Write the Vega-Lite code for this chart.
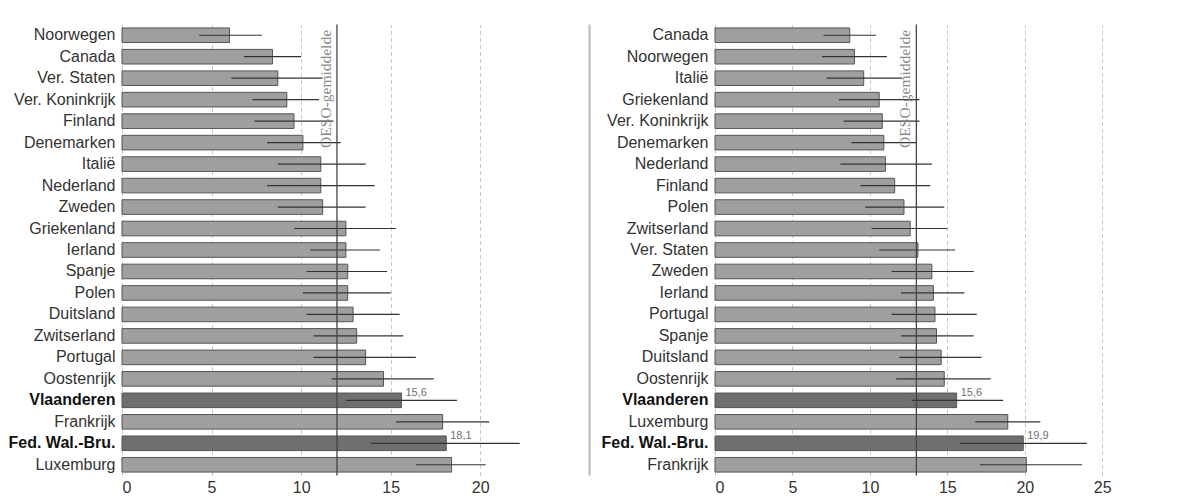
{
  "$schema": "https://vega.github.io/schema/vega-lite/v6.json",
  "background": "#ffffff",
  "padding": {"left": 8, "top": 21.5, "right": 5, "bottom": 3},
  "spacing": 10,
  "datasets": {
    "links": [
      {"land": "Noorwegen", "waarde": 6.0, "laag": 4.3, "hoog": 7.8, "groep": "land", "label": ""},
      {"land": "Canada", "waarde": 8.4, "laag": 6.8, "hoog": 10.0, "groep": "land", "label": ""},
      {"land": "Ver. Staten", "waarde": 8.7, "laag": 6.1, "hoog": 11.2, "groep": "land", "label": ""},
      {"land": "Ver. Koninkrijk", "waarde": 9.2, "laag": 7.3, "hoog": 11.0, "groep": "land", "label": ""},
      {"land": "Finland", "waarde": 9.6, "laag": 7.4, "hoog": 11.8, "groep": "land", "label": ""},
      {"land": "Denemarken", "waarde": 10.1, "laag": 8.1, "hoog": 12.2, "groep": "land", "label": ""},
      {"land": "Italië", "waarde": 11.1, "laag": 8.7, "hoog": 13.6, "groep": "land", "label": ""},
      {"land": "Nederland", "waarde": 11.1, "laag": 8.1, "hoog": 14.1, "groep": "land", "label": ""},
      {"land": "Zweden", "waarde": 11.2, "laag": 8.7, "hoog": 13.6, "groep": "land", "label": ""},
      {"land": "Griekenland", "waarde": 12.5, "laag": 9.6, "hoog": 15.3, "groep": "land", "label": ""},
      {"land": "Ierland", "waarde": 12.5, "laag": 10.5, "hoog": 14.4, "groep": "land", "label": ""},
      {"land": "Spanje", "waarde": 12.6, "laag": 10.3, "hoog": 14.8, "groep": "land", "label": ""},
      {"land": "Polen", "waarde": 12.6, "laag": 10.1, "hoog": 15.0, "groep": "land", "label": ""},
      {"land": "Duitsland", "waarde": 12.9, "laag": 10.3, "hoog": 15.5, "groep": "land", "label": ""},
      {"land": "Zwitserland", "waarde": 13.1, "laag": 10.7, "hoog": 15.7, "groep": "land", "label": ""},
      {"land": "Portugal", "waarde": 13.6, "laag": 10.7, "hoog": 16.4, "groep": "land", "label": ""},
      {"land": "Oostenrijk", "waarde": 14.6, "laag": 11.7, "hoog": 17.4, "groep": "land", "label": ""},
      {"land": "Vlaanderen", "waarde": 15.6, "laag": 12.5, "hoog": 18.7, "groep": "regio", "label": "15,6"},
      {"land": "Frankrijk", "waarde": 17.9, "laag": 15.3, "hoog": 20.5, "groep": "land", "label": ""},
      {"land": "Fed. Wal.-Bru.", "waarde": 18.1, "laag": 13.9, "hoog": 22.2, "groep": "regio", "label": "18,1"},
      {"land": "Luxemburg", "waarde": 18.4, "laag": 16.4, "hoog": 20.3, "groep": "land", "label": ""}
    ],
    "rechts": [
      {"land": "Canada", "waarde": 8.7, "laag": 7.0, "hoog": 10.4, "groep": "land", "label": ""},
      {"land": "Noorwegen", "waarde": 9.0, "laag": 6.9, "hoog": 11.1, "groep": "land", "label": ""},
      {"land": "Italië", "waarde": 9.6, "laag": 7.2, "hoog": 12.1, "groep": "land", "label": ""},
      {"land": "Griekenland", "waarde": 10.6, "laag": 8.0, "hoog": 13.2, "groep": "land", "label": ""},
      {"land": "Ver. Koninkrijk", "waarde": 10.8, "laag": 8.3, "hoog": 13.2, "groep": "land", "label": ""},
      {"land": "Denemarken", "waarde": 10.9, "laag": 8.8, "hoog": 13.0, "groep": "land", "label": ""},
      {"land": "Nederland", "waarde": 11.0, "laag": 8.1, "hoog": 14.0, "groep": "land", "label": ""},
      {"land": "Finland", "waarde": 11.6, "laag": 9.4, "hoog": 13.9, "groep": "land", "label": ""},
      {"land": "Polen", "waarde": 12.2, "laag": 9.7, "hoog": 14.8, "groep": "land", "label": ""},
      {"land": "Zwitserland", "waarde": 12.6, "laag": 10.1, "hoog": 15.0, "groep": "land", "label": ""},
      {"land": "Ver. Staten", "waarde": 13.1, "laag": 10.6, "hoog": 15.5, "groep": "land", "label": ""},
      {"land": "Zweden", "waarde": 14.0, "laag": 11.4, "hoog": 16.7, "groep": "land", "label": ""},
      {"land": "Ierland", "waarde": 14.1, "laag": 12.0, "hoog": 16.1, "groep": "land", "label": ""},
      {"land": "Portugal", "waarde": 14.2, "laag": 11.4, "hoog": 16.9, "groep": "land", "label": ""},
      {"land": "Spanje", "waarde": 14.3, "laag": 12.0, "hoog": 16.7, "groep": "land", "label": ""},
      {"land": "Duitsland", "waarde": 14.6, "laag": 11.9, "hoog": 17.2, "groep": "land", "label": ""},
      {"land": "Oostenrijk", "waarde": 14.8, "laag": 11.7, "hoog": 17.8, "groep": "land", "label": ""},
      {"land": "Vlaanderen", "waarde": 15.6, "laag": 12.7, "hoog": 18.6, "groep": "regio", "label": "15,6"},
      {"land": "Luxemburg", "waarde": 18.9, "laag": 16.8, "hoog": 21.0, "groep": "land", "label": ""},
      {"land": "Fed. Wal.-Bru.", "waarde": 19.9, "laag": 15.8, "hoog": 24.0, "groep": "regio", "label": "19,9"},
      {"land": "Frankrijk", "waarde": 20.1, "laag": 17.1, "hoog": 23.7, "groep": "land", "label": ""}
    ],
    "gem_links": [{"gem": 12.0, "tekst": "OESO-gemiddelde"}],
    "gem_rechts": [{"gem": 13.0, "tekst": "OESO-gemiddelde"}],
    "scheiding": [{"pos": 26.1}]
  },
  "hconcat": [
    {
      "width": 412,
      "height": 451,
      "layer": [
        {
          "data": {"name": "links"},
          "mark": {"type": "bar", "stroke": "#555555", "strokeWidth": 1},
          "encoding": {
            "y": {"field": "land", "type": "nominal", "sort": null,
                  "scale": {"paddingInner": 0.32, "paddingOuter": 0.16},
                  "axis": {"labelFontWeight": {"condition": {"test": "datum.value === 'Vlaanderen' || datum.value === 'Fed. Wal.-Bru.'", "value": "bold"}, "value": "normal"},
                           "labelColor": {"condition": {"test": "datum.value === 'Vlaanderen' || datum.value === 'Fed. Wal.-Bru.'", "value": "#111111"}, "value": "#333333"}}},
            "x": {"field": "waarde", "type": "quantitative", "scale": {"domain": [0, 23], "nice": false},
                  "axis": {"values": [0, 5, 10, 15, 20]}},
            "color": {"field": "groep", "type": "nominal", "scale": {"domain": ["land", "regio"], "range": ["#9f9f9f", "#6f6f6f"]}, "legend": null}
          }
        },
        {
          "data": {"name": "links"},
          "mark": {"type": "rule", "color": "#333333", "strokeWidth": 1.2},
          "encoding": {
            "y": {"field": "land", "type": "nominal", "sort": null},
            "x": {"field": "laag", "type": "quantitative"},
            "x2": {"field": "hoog"}
          }
        },
        {
          "data": {"name": "links"},
          "mark": {"type": "text", "align": "left", "baseline": "middle", "dx": 4, "dy": -7, "fontSize": 11, "font": "Liberation Sans", "color": "#707070"},
          "encoding": {
            "y": {"field": "land", "type": "nominal", "sort": null},
            "x": {"field": "waarde", "type": "quantitative"},
            "text": {"field": "label"}
          }
        },
        {
          "data": {"name": "gem_links"},
          "mark": {"type": "rule", "color": "#444444", "strokeWidth": 1.3},
          "encoding": {"x": {"field": "gem", "type": "quantitative"}}
        },
        {
          "data": {"name": "gem_links"},
          "mark": {"type": "text", "angle": 270, "align": "right", "baseline": "bottom", "dx": -2, "dy": -3, "font": "Liberation Serif", "fontSize": 15.5, "color": "#8a8a8a"},
          "encoding": {
            "x": {"field": "gem", "type": "quantitative"},
            "y": {"datum": "Noorwegen", "type": "nominal", "bandPosition": 0},
            "text": {"field": "tekst"}
          }
        },
        {
          "data": {"name": "scheiding"},
          "mark": {"type": "rule", "color": "#bbbbbb", "strokeWidth": 2},
          "encoding": {"x": {"field": "pos", "type": "quantitative"}}
        }
      ]
    },
    {
      "width": 395,
      "height": 451,
      "layer": [
        {
          "data": {"name": "rechts"},
          "mark": {"type": "bar", "stroke": "#555555", "strokeWidth": 1},
          "encoding": {
            "y": {"field": "land", "type": "nominal", "sort": null,
                  "scale": {"paddingInner": 0.32, "paddingOuter": 0.16},
                  "axis": {"labelFontWeight": {"condition": {"test": "datum.value === 'Vlaanderen' || datum.value === 'Fed. Wal.-Bru.'", "value": "bold"}, "value": "normal"},
                           "labelColor": {"condition": {"test": "datum.value === 'Vlaanderen' || datum.value === 'Fed. Wal.-Bru.'", "value": "#111111"}, "value": "#333333"}}},
            "x": {"field": "waarde", "type": "quantitative", "scale": {"domain": [0, 25.5], "nice": false},
                  "axis": {"values": [0, 5, 10, 15, 20, 25]}},
            "color": {"field": "groep", "type": "nominal", "scale": {"domain": ["land", "regio"], "range": ["#9f9f9f", "#6f6f6f"]}, "legend": null}
          }
        },
        {
          "data": {"name": "rechts"},
          "mark": {"type": "rule", "color": "#333333", "strokeWidth": 1.2},
          "encoding": {
            "y": {"field": "land", "type": "nominal", "sort": null},
            "x": {"field": "laag", "type": "quantitative"},
            "x2": {"field": "hoog"}
          }
        },
        {
          "data": {"name": "rechts"},
          "mark": {"type": "text", "align": "left", "baseline": "middle", "dx": 4, "dy": -7, "fontSize": 11, "font": "Liberation Sans", "color": "#707070"},
          "encoding": {
            "y": {"field": "land", "type": "nominal", "sort": null},
            "x": {"field": "waarde", "type": "quantitative"},
            "text": {"field": "label"}
          }
        },
        {
          "data": {"name": "gem_rechts"},
          "mark": {"type": "rule", "color": "#444444", "strokeWidth": 1.3},
          "encoding": {"x": {"field": "gem", "type": "quantitative"}}
        },
        {
          "data": {"name": "gem_rechts"},
          "mark": {"type": "text", "angle": 270, "align": "right", "baseline": "bottom", "dx": -2, "dy": -3, "font": "Liberation Serif", "fontSize": 15.5, "color": "#8a8a8a"},
          "encoding": {
            "x": {"field": "gem", "type": "quantitative"},
            "y": {"datum": "Canada", "type": "nominal", "bandPosition": 0},
            "text": {"field": "tekst"}
          }
        }
      ]
    }
  ],
  "config": {
    "view": {"stroke": null},
    "axis": {"title": null, "domain": false, "ticks": false, "labelFont": "Liberation Sans", "labelColor": "#333333"},
    "axisY": {"labelFontSize": 16, "labelPadding": 7, "grid": false},
    "axisX": {"labelFontSize": 16, "labelPadding": 4, "grid": true, "gridDash": [4, 3], "gridColor": "#c8c8c8", "gridWidth": 1}
  }
}
